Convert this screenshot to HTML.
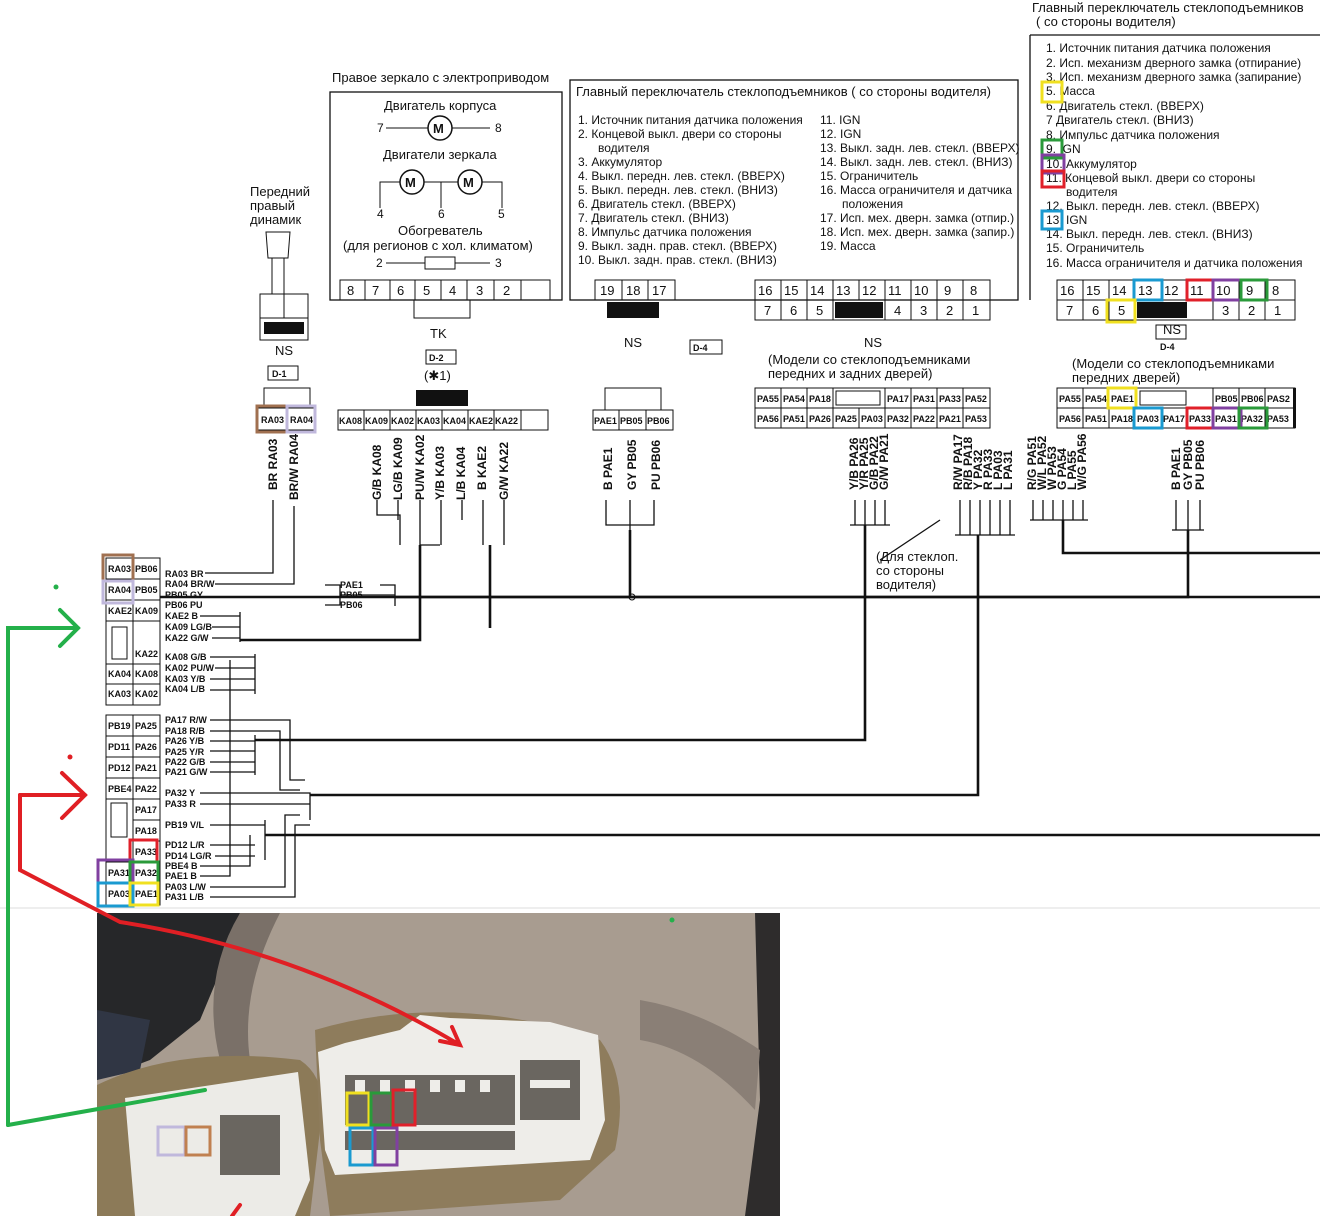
<!DOCTYPE html>
<html><head><meta charset="utf-8"><style>
html,body{margin:0;padding:0;background:#fff}
svg{display:block}
text{font-family:"Liberation Sans","DejaVu Sans",sans-serif;fill:#111}
.s{font-size:12px}.t{font-size:13px}.m{font-size:9px;font-weight:bold}
</style></head><body>
<svg width="1320" height="1216" viewBox="0 0 1320 1216" xmlns="http://www.w3.org/2000/svg">
<rect width="1320" height="1216" fill="#fff"/>
<g fill="none" stroke="#111" stroke-width="1.3">
<rect x="330" y="92" width="232" height="208"/>
<rect x="570" y="80" width="448" height="220"/>
<path d="M1030 35 V300 M1030 35 H1320"/>
</g>
<text x="332" y="82" class="t">Правое зеркало с электроприводом</text>
<text x="384" y="110" class="t">Двигатель корпуса</text>
<text x="377" y="132" class="s">7</text><text x="495" y="132" class="s">8</text>
<circle cx="440" cy="128" r="12" fill="none" stroke="#111" stroke-width="1.5"/><text x="433" y="133" class="t" font-weight="bold">M</text>
<path d="M386 128H428M452 128H490" stroke="#111"/>
<text x="383" y="159" class="t">Двигатели зеркала</text>
<circle cx="412" cy="182" r="12" fill="none" stroke="#111" stroke-width="1.5"/><text x="405" y="187" class="t" font-weight="bold">M</text>
<circle cx="470" cy="182" r="12" fill="none" stroke="#111" stroke-width="1.5"/><text x="463" y="187" class="t" font-weight="bold">M</text>
<path d="M400 182H380V208M424 182H458M482 182H502V208M441 182V208" stroke="#111" fill="none"/>
<text x="377" y="218" class="s">4</text><text x="438" y="218" class="s">6</text><text x="498" y="218" class="s">5</text>
<text x="398" y="235" class="t">Обогреватель</text>
<text x="343" y="250" class="t">(для регионов с хол. климатом)</text>
<text x="376" y="267" class="s">2</text><text x="495" y="267" class="s">3</text>
<path d="M386 263H425M455 263H490" stroke="#111"/><rect x="425" y="257" width="30" height="12" fill="none" stroke="#111"/>
<g stroke="#111" fill="none"><rect x="340" y="280" width="210" height="20"/>
<path d="M365 280V300M390 280V300M415 280V300M441 280V300M467 280V300M494 280V300M521 280V300"/>
<rect x="414" y="300" width="56" height="18"/></g>
<g class="t"><text x="347" y="295">8</text><text x="372" y="295">7</text><text x="397" y="295">6</text><text x="423" y="295">5</text><text x="449" y="295">4</text><text x="476" y="295">3</text><text x="503" y="295">2</text></g>
<text x="430" y="338" class="t">TK</text>
<rect x="426" y="350" width="30" height="14" fill="none" stroke="#111"/><text x="429" y="361" class="m">D-2</text>
<text x="424" y="380" class="t">(✱1)</text>
<g class="s">
<text x="578" y="124">1.  Источник питания датчика положения</text>
<text x="578" y="138">2.  Концевой выкл. двери со стороны</text>
<text x="598" y="152">водителя</text>
<text x="578" y="166">3.  Аккумулятор</text>
<text x="578" y="180">4.  Выкл. передн. лев. стекл. (ВВЕРХ)</text>
<text x="578" y="194">5.  Выкл. передн. лев. стекл. (ВНИЗ)</text>
<text x="578" y="208">6.  Двигатель стекл. (ВВЕРХ)</text>
<text x="578" y="222">7.  Двигатель стекл. (ВНИЗ)</text>
<text x="578" y="236">8.  Импульс датчика положения</text>
<text x="578" y="250">9.  Выкл. задн. прав. стекл. (ВВЕРХ)</text>
<text x="578" y="264">10. Выкл. задн. прав. стекл. (ВНИЗ)</text>
<text x="820" y="124">11. IGN</text><text x="820" y="138">12. IGN</text>
<text x="820" y="152">13. Выкл. задн. лев. стекл. (ВВЕРХ)</text>
<text x="820" y="166">14. Выкл. задн. лев. стекл. (ВНИЗ)</text>
<text x="820" y="180">15. Ограничитель</text>
<text x="820" y="194">16. Масса ограничителя и датчика</text>
<text x="842" y="208">положения</text>
<text x="820" y="222">17. Исп. мех. дверн. замка (отпир.)</text>
<text x="820" y="236">18. Исп. мех. дверн. замка (запир.)</text>
<text x="820" y="250">19. Масса</text>
</g>
<text x="576" y="96" class="t">Главный переключатель стеклоподъемников ( со стороны водителя)</text>
<g stroke="#111" fill="none">
<rect x="595" y="280" width="80" height="20"/><path d="M622 280V300M648 280V300"/>
<rect x="755" y="280" width="235" height="40"/><path d="M755 300H990M781 280V320M807 280V320M833 280V320M859 280V300M885 280V320M911 280V320M937 280V320M963 280V320"/>
<rect x="690" y="340" width="32" height="14"/>
</g>
<rect x="607" y="302" width="52" height="16" fill="#111"/>
<rect x="835" y="302" width="48" height="16" fill="#111"/>
<g class="t"><text x="600" y="295">19</text><text x="626" y="295">18</text><text x="652" y="295">17</text>
<text x="758" y="295">16</text><text x="784" y="295">15</text><text x="810" y="295">14</text><text x="836" y="295">13</text><text x="862" y="295">12</text><text x="888" y="295">11</text><text x="914" y="295">10</text><text x="944" y="295">9</text><text x="970" y="295">8</text>
<text x="764" y="315">7</text><text x="790" y="315">6</text><text x="816" y="315">5</text><text x="894" y="315">4</text><text x="920" y="315">3</text><text x="946" y="315">2</text><text x="972" y="315">1</text></g>
<text x="624" y="347" class="t">NS</text><text x="864" y="347" class="t">NS</text>
<text x="693" y="351" class="m">D-4</text>
<text x="768" y="364" class="t">(Модели со стеклоподъемниками</text>
<text x="768" y="378" class="t">передних и задних дверей)</text>
<text x="1032" y="12" class="t">Главный переключатель стеклоподъемников</text>
<text x="1036" y="26" class="t">( со стороны водителя)</text>
<g class="s">
<text x="1046" y="52">1.  Источник питания датчика положения</text>
<text x="1046" y="67">2.  Исп. механизм дверного замка (отпирание)</text>
<text x="1046" y="81">3.  Исп. механизм дверного замка (запирание)</text>
<text x="1046" y="95">5.  Масса</text>
<text x="1046" y="110">6.  Двигатель стекл. (ВВЕРХ)</text>
<text x="1046" y="124">7   Двигатель стекл. (ВНИЗ)</text>
<text x="1046" y="139">8.  Импульс датчика положения</text>
<text x="1046" y="153">9.  IGN</text>
<text x="1046" y="168">10. Аккумулятор</text>
<text x="1046" y="182">11. Концевой выкл. двери со стороны</text>
<text x="1066" y="196">водителя</text>
<text x="1046" y="210">12. Выкл. передн. лев. стекл. (ВВЕРХ)</text>
<text x="1046" y="224">13. IGN</text>
<text x="1046" y="238">14. Выкл. передн. лев. стекл. (ВНИЗ)</text>
<text x="1046" y="252">15. Ограничитель</text>
<text x="1046" y="267">16. Масса ограничителя и датчика положения</text>
</g>
<g fill="none" stroke-width="3">
<rect x="1042" y="82" width="20" height="20" stroke="#f0e020"/>
<rect x="1042" y="140" width="20" height="18" stroke="#2a9a3a"/>
<rect x="1042" y="155" width="22" height="18" stroke="#8040a0"/>
<rect x="1042" y="171" width="22" height="16" stroke="#e0202a"/>
<rect x="1042" y="211" width="20" height="18" stroke="#1a9ad0"/>
</g>
<g stroke="#111" fill="none">
<rect x="1057" y="280" width="238" height="40"/><path d="M1057 300H1295M1083 280V320M1109 280V320M1135 280V300M1161 280V300M1187 280V300M1213 280V320M1239 280V320M1265 280V320"/>
<rect x="1156" y="325" width="30" height="14"/>
</g>
<rect x="1137" y="302" width="50" height="16" fill="#111"/>
<g class="t"><text x="1060" y="295">16</text><text x="1086" y="295">15</text><text x="1112" y="295">14</text><text x="1138" y="295">13</text><text x="1164" y="295">12</text><text x="1190" y="295">11</text><text x="1216" y="295">10</text><text x="1246" y="295">9</text><text x="1272" y="295">8</text>
<text x="1066" y="315">7</text><text x="1092" y="315">6</text><text x="1118" y="315">5</text><text x="1222" y="315">3</text><text x="1248" y="315">2</text><text x="1274" y="315">1</text></g>
<g fill="none" stroke-width="3">
<rect x="1134" y="280" width="28" height="20" stroke="#1a9ad0"/>
<rect x="1187" y="280" width="26" height="20" stroke="#e0202a"/>
<rect x="1213" y="280" width="28" height="20" stroke="#8040a0"/>
<rect x="1241" y="280" width="26" height="20" stroke="#2a9a3a"/>
<rect x="1107" y="300" width="28" height="22" stroke="#f0e020"/>
</g>
<text x="1163" y="334" class="t">NS</text>
<text x="1160" y="350" class="m">D-4</text>
<text x="1072" y="368" class="t">(Модели со стеклоподъемниками</text>
<text x="1072" y="382" class="t">передних дверей)</text>
<text x="250" y="196" class="t">Передний</text><text x="250" y="210" class="t">правый</text><text x="250" y="224" class="t">динамик</text>
<g stroke="#111" fill="none">
<path d="M266 232H290L288 258H268Z"/><rect x="272" y="258" width="12" height="36"/>
<rect x="260" y="294" width="48" height="46"/><path d="M284 294V318M260 318H308"/>
<rect x="268" y="366" width="30" height="14"/>
</g>
<rect x="264" y="322" width="40" height="12" fill="#111"/>
<text x="275" y="355" class="t">NS</text><text x="272" y="377" class="m">D-1</text>
<g stroke="#111" fill="none">
<rect x="258" y="408" width="58" height="22"/><path d="M287 408V430"/>
<rect x="264" y="388" width="46" height="20"/>
<rect x="338" y="410" width="210" height="20"/><path d="M364 410V430M390 410V430M416 410V430M442 410V430M468 410V430M494 410V430M521 410V430"/>
<rect x="593" y="410" width="80" height="20"/><path d="M619 410V430M646 410V430"/><rect x="605" y="388" width="56" height="22"/>
<rect x="755" y="388" width="235" height="40"/><path d="M755 408H990M781 388V428M807 388V428M833 388V428M885 388V428M911 388V428M937 388V428M963 388V428M859 408V428"/><rect x="836" y="391" width="44" height="14"/>
<rect x="1057" y="388" width="238" height="40"/><path d="M1057 408H1295M1083 388V428M1109 388V428M1135 388V428M1161 408V428M1187 408V428M1213 388V428M1239 388V428M1265 388V428"/><rect x="1140" y="391" width="46" height="14"/>
</g>
<rect x="416" y="390" width="52" height="16" fill="#111"/>
<rect x="1293" y="388" width="3" height="40" fill="#111"/>
<g class="m">
<text x="261" y="423">RA03</text><text x="290" y="423">RA04</text>
<text x="339" y="424">KA08</text><text x="365" y="424">KA09</text><text x="391" y="424">KA02</text><text x="417" y="424">KA03</text><text x="443" y="424">KA04</text><text x="469" y="424">KAE2</text><text x="495" y="424">KA22</text>
<text x="594" y="424">PAE1</text><text x="620" y="424">PB05</text><text x="647" y="424">PB06</text>
<text x="757" y="402">PA55</text><text x="783" y="402">PA54</text><text x="809" y="402">PA18</text><text x="887" y="402">PA17</text><text x="913" y="402">PA31</text><text x="939" y="402">PA33</text><text x="965" y="402">PA52</text>
<text x="757" y="422">PA56</text><text x="783" y="422">PA51</text><text x="809" y="422">PA26</text><text x="835" y="422">PA25</text><text x="861" y="422">PA03</text><text x="887" y="422">PA32</text><text x="913" y="422">PA22</text><text x="939" y="422">PA21</text><text x="965" y="422">PA53</text>
<text x="1059" y="402">PA55</text><text x="1085" y="402">PA54</text><text x="1111" y="402">PAE1</text><text x="1215" y="402">PB05</text><text x="1241" y="402">PB06</text><text x="1267" y="402">PAS2</text>
<text x="1059" y="422">PA56</text><text x="1085" y="422">PA51</text><text x="1111" y="422">PA18</text><text x="1137" y="422">PA03</text><text x="1163" y="422">PA17</text><text x="1189" y="422">PA33</text><text x="1215" y="422">PA31</text><text x="1241" y="422">PA32</text><text x="1267" y="422">PA53</text>
</g>
<g fill="none" stroke-width="3">
<rect x="257" y="406" width="30" height="26" stroke="#a07050"/>
<rect x="287" y="406" width="28" height="26" stroke="#c0b8dc"/>
<rect x="1108" y="388" width="28" height="20" stroke="#f0e020"/>
<rect x="1134" y="408" width="28" height="20" stroke="#1a9ad0"/>
<rect x="1187" y="408" width="26" height="20" stroke="#e0202a"/>
<rect x="1213" y="408" width="28" height="20" stroke="#8040a0"/>
<rect x="1239" y="408" width="28" height="20" stroke="#2a9a3a"/>
</g>
<g class="s" font-weight="bold">
<text transform="translate(277,490) rotate(-90)">BR  RA03</text>
<text transform="translate(298,500) rotate(-90)">BR/W  RA04</text>
<text transform="translate(381,500) rotate(-90)">G/B  KA08</text>
<text transform="translate(402,500) rotate(-90)">LG/B  KA09</text>
<text transform="translate(424,500) rotate(-90)">PU/W  KA02</text>
<text transform="translate(444,500) rotate(-90)">Y/B  KA03</text>
<text transform="translate(465,500) rotate(-90)">L/B  KA04</text>
<text transform="translate(486,490) rotate(-90)">B  KAE2</text>
<text transform="translate(508,500) rotate(-90)">G/W  KA22</text>
<text transform="translate(612,490) rotate(-90)">B  PAE1</text>
<text transform="translate(636,490) rotate(-90)">GY  PB05</text>
<text transform="translate(660,490) rotate(-90)">PU  PB06</text>
<text transform="translate(858,490) rotate(-90)">Y/B PA26</text>
<text transform="translate(868,490) rotate(-90)">Y/R PA25</text>
<text transform="translate(878,490) rotate(-90)">G/B PA22</text>
<text transform="translate(888,490) rotate(-90)">G/W PA21</text>
<text transform="translate(962,490) rotate(-90)">R/W PA17</text>
<text transform="translate(972,490) rotate(-90)">R/B PA18</text>
<text transform="translate(982,490) rotate(-90)">Y PA32</text>
<text transform="translate(992,490) rotate(-90)">R PA33</text>
<text transform="translate(1002,490) rotate(-90)">L PA03</text>
<text transform="translate(1012,490) rotate(-90)">L PA31</text>
<text transform="translate(1036,490) rotate(-90)">R/G PA51</text>
<text transform="translate(1046,490) rotate(-90)">W/L PA52</text>
<text transform="translate(1056,490) rotate(-90)">W PA53</text>
<text transform="translate(1066,490) rotate(-90)">G PA54</text>
<text transform="translate(1076,490) rotate(-90)">L PA55</text>
<text transform="translate(1086,490) rotate(-90)">W/G PA56</text>
<text transform="translate(1180,490) rotate(-90)">B  PAE1</text>
<text transform="translate(1192,490) rotate(-90)">GY  PB05</text>
<text transform="translate(1204,490) rotate(-90)">PU  PB06</text>
</g>
<text x="876" y="561" class="t">(Для стеклоп.</text><text x="876" y="575" class="t">со стороны</text><text x="876" y="589" class="t">водителя)</text>
<g stroke="#111" fill="none" stroke-width="1.3">
<path d="M273 500V573H205M294 506V584H215"/>
<path d="M377 500V515H400V545M398 500V520M420 500V545H440M441 500V545M462 500V520M483 500V545M504 500V545"/>
<path d="M606 500V525H630M630 500V530M654 500V525H630"/>
<path d="M855 500V525M865 500V525M875 500V525M885 500V525M850 525H890"/>
<path d="M960 500V535M970 500V535M980 500V535M990 500V535M1000 500V535M1010 500V535M955 535H1015"/>
<path d="M1033 500V520M1043 500V520M1053 500V520M1063 500V520M1073 500V520M1083 500V520M1030 520H1088"/>
<path d="M1176 500V530M1188 500V530M1200 500V530M1172 530H1204"/>
<path d="M940 520L880 560"/>
<path d="M200 616H240M212 627H240M212 638H240M240 612V642"/>
<path d="M210 657H255M215 668H255M210 679H255M210 690H255M255 654V694"/>
<path d="M210 720H290V780H305M210 731H280V790H300M210 741H255M210 751H255M210 762H255M210 772H255M255 735V775"/>
<path d="M200 793H310V820M200 804H310"/>
<path d="M210 825H265M265 820V860"/>
<path d="M210 845H255M215 856H255M200 866H250V835M200 876H230V660M210 887H285V815H300M210 897H295V825H310"/>
<path d="M325 585H340V605H325M340 595H395M380 585H395V606"/>
</g>
<g stroke="#111" fill="none" stroke-width="2.6">
<path d="M630 530V597M420 545V640H240M490 545V628M1188 530V597H395"/>
<path d="M160 597H1320"/>
<path d="M255 740H865V525"/>
<path d="M310 795H978V535"/>
<path d="M265 835H1320"/>
<path d="M1063 520V553H1320"/>
</g>
<circle cx="632" cy="597" r="3" fill="none" stroke="#111"/>
<g class="m" font-size="10">
<text x="165" y="577">RA03  BR</text><text x="165" y="587">RA04  BR/W</text><text x="165" y="598">PB05  GY</text><text x="165" y="608">PB06  PU</text>
<text x="165" y="619">KAE2  B</text><text x="165" y="630">KA09  LG/B</text><text x="165" y="641">KA22  G/W</text>
<text x="165" y="660">KA08  G/B</text><text x="165" y="671">KA02  PU/W</text><text x="165" y="682">KA03  Y/B</text><text x="165" y="692">KA04  L/B</text>
<text x="165" y="723">PA17  R/W</text><text x="165" y="734">PA18  R/B</text><text x="165" y="744">PA26  Y/B</text><text x="165" y="755">PA25  Y/R</text><text x="165" y="765">PA22  G/B</text><text x="165" y="775">PA21  G/W</text>
<text x="165" y="796">PA32  Y</text><text x="165" y="807">PA33  R</text><text x="165" y="828">PB19  V/L</text>
<text x="165" y="848">PD12  L/R</text><text x="165" y="859">PD14  LG/R</text><text x="165" y="869">PBE4  B</text><text x="165" y="879">PAE1  B</text><text x="165" y="890">PA03  L/W</text><text x="165" y="900">PA31  L/B</text>
<text x="340" y="588">PAE1</text><text x="340" y="598">PB05</text><text x="340" y="608">PB06</text>
</g>
<g stroke="#111" fill="none">
<rect x="106" y="558" width="54" height="147"/><path d="M133 558V705M106 579H160M106 600H160M106 621H160M106 664H160M106 684H160"/>
<rect x="112" y="627" width="15" height="32"/>
<rect x="106" y="715" width="54" height="190"/><path d="M133 715V905M106 736H160M106 757H160M106 778H160M106 799H160M106 862H160M106 883H160M133 820H160M133 841H160"/>
<rect x="111" y="803" width="16" height="34"/>
</g>
<g class="m" font-size="8">
<text x="108" y="572">RA03</text><text x="135" y="572">PB06</text><text x="108" y="593">RA04</text><text x="135" y="593">PB05</text>
<text x="108" y="614">KAE2</text><text x="135" y="614">KA09</text><text x="135" y="657">KA22</text>
<text x="108" y="677">KA04</text><text x="135" y="677">KA08</text><text x="108" y="697">KA03</text><text x="135" y="697">KA02</text>
<text x="108" y="729">PB19</text><text x="135" y="729">PA25</text><text x="108" y="750">PD11</text><text x="135" y="750">PA26</text>
<text x="108" y="771">PD12</text><text x="135" y="771">PA21</text><text x="108" y="792">PBE4</text><text x="135" y="792">PA22</text>
<text x="135" y="813">PA17</text><text x="135" y="834">PA18</text><text x="135" y="855">PA33</text>
<text x="108" y="876">PA31</text><text x="135" y="876">PA32</text><text x="108" y="897">PA03</text><text x="135" y="897">PAE1</text>
</g>
<g fill="none" stroke-width="3">
<rect x="103" y="555" width="30" height="26" stroke="#a07050"/>
<rect x="103" y="581" width="30" height="22" stroke="#c0b8dc"/>
<rect x="130" y="840" width="27" height="22" stroke="#e0202a"/>
<rect x="98" y="860" width="35" height="23" stroke="#8040a0"/>
<rect x="130" y="862" width="28" height="21" stroke="#2a9a3a"/>
<rect x="98" y="883" width="35" height="23" stroke="#1a9ad0"/>
<rect x="130" y="883" width="28" height="22" stroke="#f0e020"/>
</g>
<path d="M0 908H1320" stroke="#ddd"/>
<!-- photo -->
<rect x="97" y="913" width="683" height="303" fill="#a89c90"/>
<path d="M97 913H240L225 960L200 1020L150 1060L97 1080Z" fill="#262729"/>
<path d="M97 1010L150 1020L140 1070L97 1080Z" fill="#303644"/>
<path d="M755 913H780V1216H745L760 1100Z" fill="#2e2c2c"/>
<path d="M640 1000Q700 1010 760 1050L755 1110Q700 1050 640 1040Z" fill="#8a7f76"/>
<path d="M240 913Q200 980 220 1060L250 1060Q240 990 280 913Z" fill="#7a7068"/>
<path d="M97 1085Q180 1045 300 1060Q330 1080 320 1130L310 1216H97Z" fill="#8c7a58"/>
<path d="M315 1030Q450 990 600 1040Q630 1080 615 1150L560 1200L330 1216L320 1140Z" fill="#8e7c5c"/>
<path d="M125 1098L298 1072L310 1180L295 1216H135Z" fill="#ecebe7"/>
<path d="M318 1052L345 1043L400 1030L420 1015L450 1018L550 1022L598 1035L605 1120L590 1160L335 1175L325 1150Z" fill="#eeede9"/>
<g fill="#6a6660">
<rect x="220" y="1115" width="60" height="60"/>
<rect x="345" y="1075" width="170" height="75"/>
<rect x="520" y="1060" width="60" height="60"/>
</g>
<g fill="#eeede9">
<rect x="355" y="1080" width="10" height="12"/><rect x="380" y="1080" width="10" height="12"/><rect x="405" y="1080" width="10" height="12"/><rect x="430" y="1080" width="10" height="12"/><rect x="455" y="1080" width="10" height="12"/><rect x="480" y="1080" width="10" height="12"/>
<rect x="345" y="1125" width="170" height="6"/><rect x="530" y="1080" width="40" height="8"/>
</g>
<g fill="none" stroke-width="3">
<rect x="158" y="1127" width="27" height="28" stroke="#c0b8dc"/><rect x="186" y="1127" width="24" height="28" stroke="#c08050"/>
<rect x="347" y="1093" width="22" height="32" stroke="#f0e020"/><rect x="371" y="1093" width="21" height="32" stroke="#2a9a3a"/><rect x="393" y="1090" width="22" height="35" stroke="#e0202a"/>
<rect x="350" y="1128" width="23" height="37" stroke="#1a9ad0"/><rect x="375" y="1128" width="22" height="37" stroke="#8040a0"/>
</g>
<g fill="none" stroke-width="4" stroke-linecap="round">
<path d="M8 1125V628H78M60 610L78 628L60 646" stroke="#24b04a"/>
<path d="M8 1125L205 1090" stroke="#24b04a"/>
<path d="M20 795H85M62 773L85 795L62 818" stroke="#e01f24"/>
<path d="M20 795V870L120 922Q300 950 460 1045M440 1041L460 1045L452 1027" stroke="#e01f24"/>
<path d="M240 1205L232 1216" stroke="#e01f24"/>
</g>
<circle cx="56" cy="587" r="2.5" fill="#24b04a"/><circle cx="70" cy="757" r="2.5" fill="#e01f24"/><circle cx="672" cy="920" r="2.5" fill="#24b04a"/>
</svg>
</body></html>
